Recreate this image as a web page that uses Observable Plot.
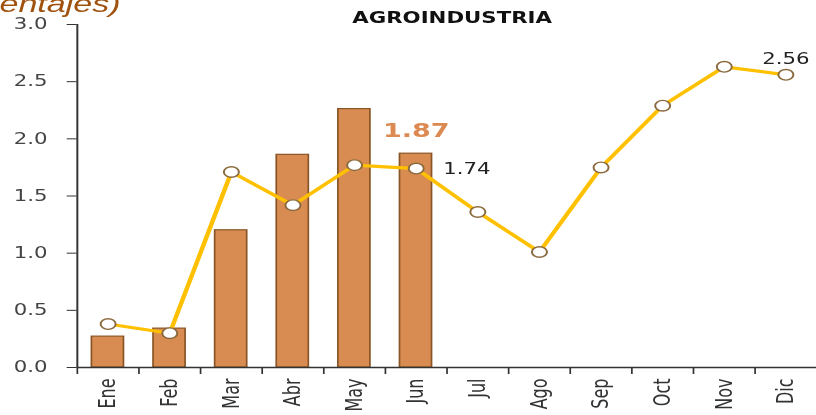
<!DOCTYPE html>
<html><head><meta charset="utf-8">
<script src="https://cdn.jsdelivr.net/npm/d3@7"></script>
<script src="https://cdn.jsdelivr.net/npm/@observablehq/plot@0.6"></script>
<style>
html,body{margin:0;padding:0;background:#fff;overflow:hidden;width:816px;height:415px;}
#wrap{position:relative;width:575px;height:415px;transform:scaleX(1.41913);transform-origin:0 0;}
#wrap svg{position:absolute;left:0;top:0;}
#sub{position:absolute;right:490px;top:-8px;white-space:nowrap;font-family:"Liberation Sans",Arial,sans-serif;font-style:italic;font-size:24px;line-height:24px;color:#a0520f;z-index:2;}
#title{position:absolute;left:218.6px;width:200px;text-align:center;top:10.6px;font-family:"DejaVu Sans",sans-serif;font-weight:bold;font-size:15px;line-height:15px;color:#111;z-index:2;}
#wrap g[aria-label^="y-axis"] text{font-size:15px;fill:#444;}
#wrap g[aria-label^="x-axis"] text{font-size:16px;fill:#333;}
</style></head><body>
<div id="wrap">
<div id="sub">(en porcentajes)</div>
<div id="title">AGROINDUSTRIA</div>
</div>
<script>
const months = ["Ene","Feb","Mar","Abr","May","Jun","Jul","Ago","Sep","Oct","Nov","Dic"];
const barValues = [0.27, 0.34, 1.20, 1.86, 2.26, 1.87];
const lineValues = [0.38, 0.30, 1.71, 1.42, 1.77, 1.74, 1.36, 1.01, 1.75, 2.29, 2.63, 2.56];
const yTicks = [0, 0.5, 1.0, 1.5, 2.0, 2.5, 3.0];
const barLabelMonth = "Jun";
const lineLabelMonths = ["Jun", "Dic"];

const barData = barValues.map((v, i) => ({m: months[i], v}));
const lineData = lineValues.map((v, i) => ({m: months[i], v}));

const W = 575, H = 415, mL = 54, mR = 0, mT = 24, mB = 48;
const step = (W - mL - mR) / months.length;

const chart = Plot.plot({
  width: W, height: H,
  marginLeft: mL, marginRight: mR, marginTop: mT, marginBottom: mB,
  style: {fontFamily: "DejaVu Sans, sans-serif", fontSize: "15px", color: "#333", background: "transparent", overflow: "visible"},
  x: {domain: months, round: false, paddingInner: 0.48, paddingOuter: 0.24, tickSize: 0, tickRotate: -90, tickPadding: 11, label: null},
  y: {domain: [0, 3], ticks: yTicks, tickSize: 7, tickPadding: 14, tickFormat: d3.format(".1f"), label: null},
  marks: [
    Plot.barY(barData, {x: "m", y: "v", fill: "#d98c52", stroke: "#8a5526", strokeWidth: 1.2}),
    Plot.ruleY([0], {stroke: "#333", strokeWidth: 1.4}),
    Plot.ruleX([months[0]], {x: d => d, dx: -step / 2, y1: () => 0, y2: () => 3, stroke: "#333", strokeWidth: 1.4}),
    Plot.ruleX(months, {x: d => d, dx: -step / 2, y1: () => 0, y2: () => 0, insetBottom: -7, stroke: "#333", strokeWidth: 1.2}),
    Plot.line(lineData, {x: "m", y: "v", stroke: "#ffc000", strokeWidth: 3.2}),
    Plot.dot(lineData, {x: "m", y: "v", r: 5.3, fill: "white", stroke: "#8b6a3e", strokeWidth: 1.4}),
    Plot.text(barData.filter(d => d.m === barLabelMonth), {x: "m", y: "v", text: d => d.v.toFixed(2), textAnchor: "middle", lineAnchor: "bottom", dy: -17, fontSize: 19, fontWeight: "bold", fill: "#dc8a52"}),
    Plot.text(lineData.filter(d => d.m === lineLabelMonths[0]), {x: "m", y: "v", text: d => d.v.toFixed(2), textAnchor: "start", lineAnchor: "middle", dx: 19, dy: 1, fontSize: 15, fill: "#222"}),
    Plot.text(lineData.filter(d => d.m === lineLabelMonths[1]), {x: "m", y: "v", text: d => d.v.toFixed(2), textAnchor: "middle", lineAnchor: "bottom", dy: -11, fontSize: 15, fill: "#222"})
  ]
});
document.getElementById("wrap").prepend(chart);
</script>
</body></html>
